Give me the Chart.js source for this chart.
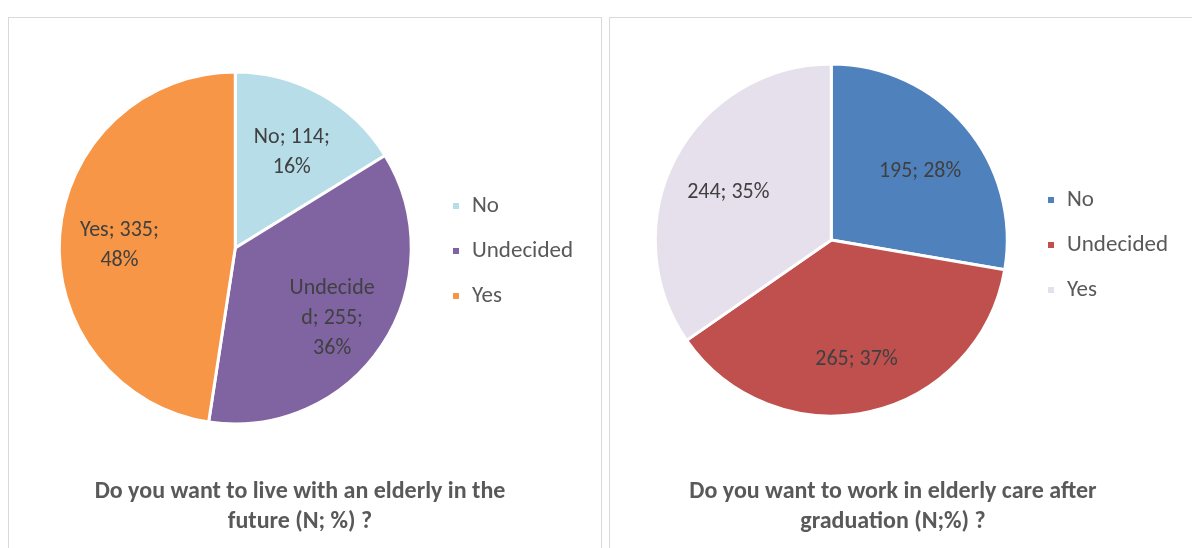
<!DOCTYPE html>
<html>
<head>
<meta charset="utf-8">
<script src="https://cdn.jsdelivr.net/npm/chart.js@4.4.1/dist/chart.umd.min.js"></script>
<style>
  body { margin: 0; background: #fff; width: 1192px; height: 548px; overflow: hidden; position: relative; }
  .panel { position: absolute; border: 1px solid #d9d9d9; box-sizing: border-box; }
  .box { position: absolute; }
  .title {
    position: absolute; width: 600px; text-align: center;
    font-family: Carlito, Lato, sans-serif; font-weight: bold; font-size: 24px;
    line-height: 30px; color: #595959;
  }
</style>
</head>
<body>
<div class="panel" style="left:8px; top:17px; width:594px; height:560px;"></div>
<div class="panel" style="left:609px; top:17px; width:600px; height:560px;"></div>
<div class="box" style="left:9px; top:18px; width:582px; height:530px;"><canvas id="liveChart"></canvas></div>
<div class="box" style="left:610px; top:18px; width:568px; height:530px;"><canvas id="workChart"></canvas></div>
<div class="title" id="liveTitle" style="left:0px; top:475px;"></div>
<div class="title" id="workTitle" style="left:593px; top:475px;"></div>
<script>
const categories = ['No', 'Undecided', 'Yes']

// left: live with an elderly
const liveCounts = [114, 255, 335]
const livePercents = [16, 36, 48]
const liveColors = ['#B7DEE8', '#8064A2', '#F79646']

// right: work in elderly care
const workCounts = [195, 265, 244]
const workPercents = [28, 37, 35]
const workColors = ['#4F81BD', '#C0504D', '#E6E0EC']

const liveTitle = ['Do you want to live with an elderly in the', 'future (N; %) ?']
const workTitle = ['Do you want to work in elderly care after', 'graduation (N;%) ?']

const fontFamily = "Carlito, Lato, sans-serif"

// wraps words, and breaks a word by characters if it is too long (like Excel does)
function wrapText(ctx, text, maxWidth) {
  const lines = []
  let line = ''
  for (const word of text.split(' ')) {
    const test = line ? line + ' ' + word : word
    if (ctx.measureText(test).width <= maxWidth) {
      line = test
      continue
    }
    if (line) lines.push(line)
    line = ''
    let piece = ''
    for (const ch of word) {
      if (ctx.measureText(piece + ch).width > maxWidth && piece) {
        lines.push(piece)
        piece = ''
      }
      piece += ch
    }
    line = piece
  }
  if (line) lines.push(line)
  return lines
}

const sliceLabels = {
  id: 'sliceLabels',
  afterDatasetsDraw(chart, args, opts) {
    const ctx = chart.ctx
    const meta = chart.getDatasetMeta(0)
    ctx.save()
    ctx.font = '22px ' + fontFamily
    ctx.fillStyle = '#404040'
    ctx.textAlign = 'center'
    ctx.textBaseline = 'middle'
    meta.data.forEach((arc, i) => {
      const mid = (arc.startAngle + arc.endAngle) / 2
      const r = arc.outerRadius * opts.radiusRatio
      const x = arc.x + Math.cos(mid) * r
      const y = arc.y + Math.sin(mid) * r + opts.offsetY
      const lines = wrapText(ctx, opts.texts[i], opts.maxWidth)
      const lh = 30
      lines.forEach((ln, k) => {
        ctx.fillText(ln, x, y + (k - (lines.length - 1) / 2) * lh)
      })
    })
    ctx.restore()
  }
}

function makePie(el, counts, colors, texts, padding, legendShift) {
  return new Chart(el, {
    type: 'pie',
    data: {
      labels: categories,
      datasets: [{
        data: counts,
        backgroundColor: colors,
        borderColor: '#ffffff',
        borderWidth: 3,
        radius: 176
      }]
    },
    options: {
      responsive: true,
      maintainAspectRatio: false,
      animation: false,
      layout: { padding: padding },
      plugins: {
        legend: {
          position: 'right',
          fullSize: false,
          // empty legend title only nudges the items down a little
          title: { display: true, text: '', padding: { top: 0, bottom: legendShift }, font: { size: 1, lineHeight: 1 } },
          labels: {
            boxWidth: 9,
            boxHeight: 9,
            padding: 22,
            color: '#595959',
            font: { family: fontFamily, size: 23 }
          }
        },
        title: { display: false },
        tooltip: { enabled: false },
        sliceLabels: { texts: texts, radiusRatio: 0.66, maxWidth: 90, offsetY: 6 }
      }
    },
    plugins: [sliceLabels]
  })
}

const liveTexts = categories.map((c, i) => `${c}; ${liveCounts[i]}; ${livePercents[i]}%`)
const workTexts = categories.map((c, i) => `${workCounts[i]}; ${workPercents[i]}%`)

document.getElementById('liveTitle').innerHTML = liveTitle.join('<br>')
document.getElementById('workTitle').innerHTML = workTitle.join('<br>')

makePie(document.getElementById('liveChart'), liveCounts, liveColors, liveTexts,
  { left: 32, right: 8, top: 3, bottom: 73 }, 5)
makePie(document.getElementById('workChart'), workCounts, workColors, workTexts,
  { left: 28, right: 0, top: 0, bottom: 86 }, 9)
</script>
</body>
</html>
